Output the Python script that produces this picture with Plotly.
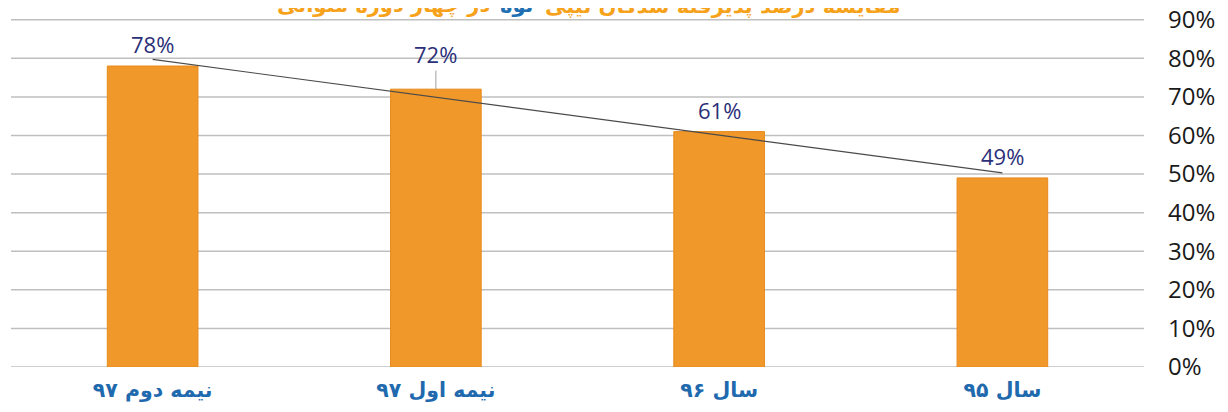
import numpy as np
import plotly.graph_objects as go

categories = ["سال ۹۵", "سال ۹۶", "نیمه اول ۹۷", "نیمه دوم ۹۷"]
values = [49, 61, 72, 78]
tick_vals = [0, 10, 20, 30, 40, 50, 60, 70, 80, 90]
tick_text = ["0%", "10%", "20%", "30%", "40%", "50%", "60%", "70%", "80%", "90%"]
title_right = "مقایسه درصد پذیرفته شدگان تیپی"
title_blue = "لوه"
title_left = "در چهار دوره متوالی"

idx = np.arange(len(values))
coef = np.polyfit(idx, values, 1)
trend = np.polyval(coef, idx)

fig = go.Figure()
fig.add_trace(go.Bar(
    x=categories, y=values, width=0.32,
    marker=dict(color="#F0982A", line=dict(color="#E88A1C", width=1)),
    showlegend=False, hoverinfo="skip",
))
fig.add_trace(go.Scatter(
    x=categories, y=trend, mode="lines",
    line=dict(color="#4a4a4a", width=1.2),
    showlegend=False, hoverinfo="skip",
))

# horizontal gridlines at every tick value (drawn beneath the bars)
for tv in tick_vals:
    fig.add_shape(type="line", xref="paper", yref="y", x0=0, x1=1, y0=tv, y1=tv,
                  line=dict(color="#BFBFBF", width=1.5), layer="below")

label_font = dict(family="Open Sans, sans-serif", size=22, color="#2B2F78")
for c, v in zip(categories, values):
    if v == 72:
        fig.add_annotation(x=c, y=v, text=f"{v}%", showarrow=True, arrowhead=0,
                           arrowcolor="#a0a0a0", arrowwidth=1, ax=0, ay=-35,
                           font=label_font)
    else:
        fig.add_annotation(x=c, y=v, text=f"{v}%", showarrow=False,
                           yanchor="middle", yshift=22, font=label_font)

title_font = dict(family="DejaVu Sans", size=21, color="#F7A21B", weight="bold")
ty = 7
fig.add_annotation(xref="paper", yref="paper", x=0.4466, y=1, xanchor="center",
                   yanchor="middle", yshift=ty, text=title_blue, showarrow=False,
                   font=dict(title_font, color="#1F6FB2"))
fig.add_annotation(xref="paper", yref="paper", x=0.4695, y=1, xanchor="left",
                   yanchor="middle", yshift=ty, text=title_right, showarrow=False,
                   font=title_font)
fig.add_annotation(xref="paper", yref="paper", x=0.4245, y=1, xanchor="right",
                   yanchor="middle", yshift=ty, text=title_left, showarrow=False,
                   font=title_font)

fig.update_layout(
    width=1228, height=412,
    margin=dict(l=3, r=92, t=4, b=53),
    plot_bgcolor="white", paper_bgcolor="white",
    xaxis=dict(
        autorange="reversed", showgrid=False, zeroline=False, showline=False,
        automargin=False,
        tickfont=dict(family="DejaVu Sans", size=20.5, color="#1F6AAE", weight="bold"),
        ticklabelstandoff=8,
    ),
    yaxis=dict(
        side="right", range=[0, 92], tickvals=tick_vals, ticktext=tick_text,
        showgrid=False, zeroline=False,
        showline=False, automargin=False, ticklabeloverflow="allow",
        tickfont=dict(family="Open Sans, sans-serif", size=24, color="#1a1a1a"),
        ticklabelstandoff=23,
    ),
)

fig.write_html("out.html")
